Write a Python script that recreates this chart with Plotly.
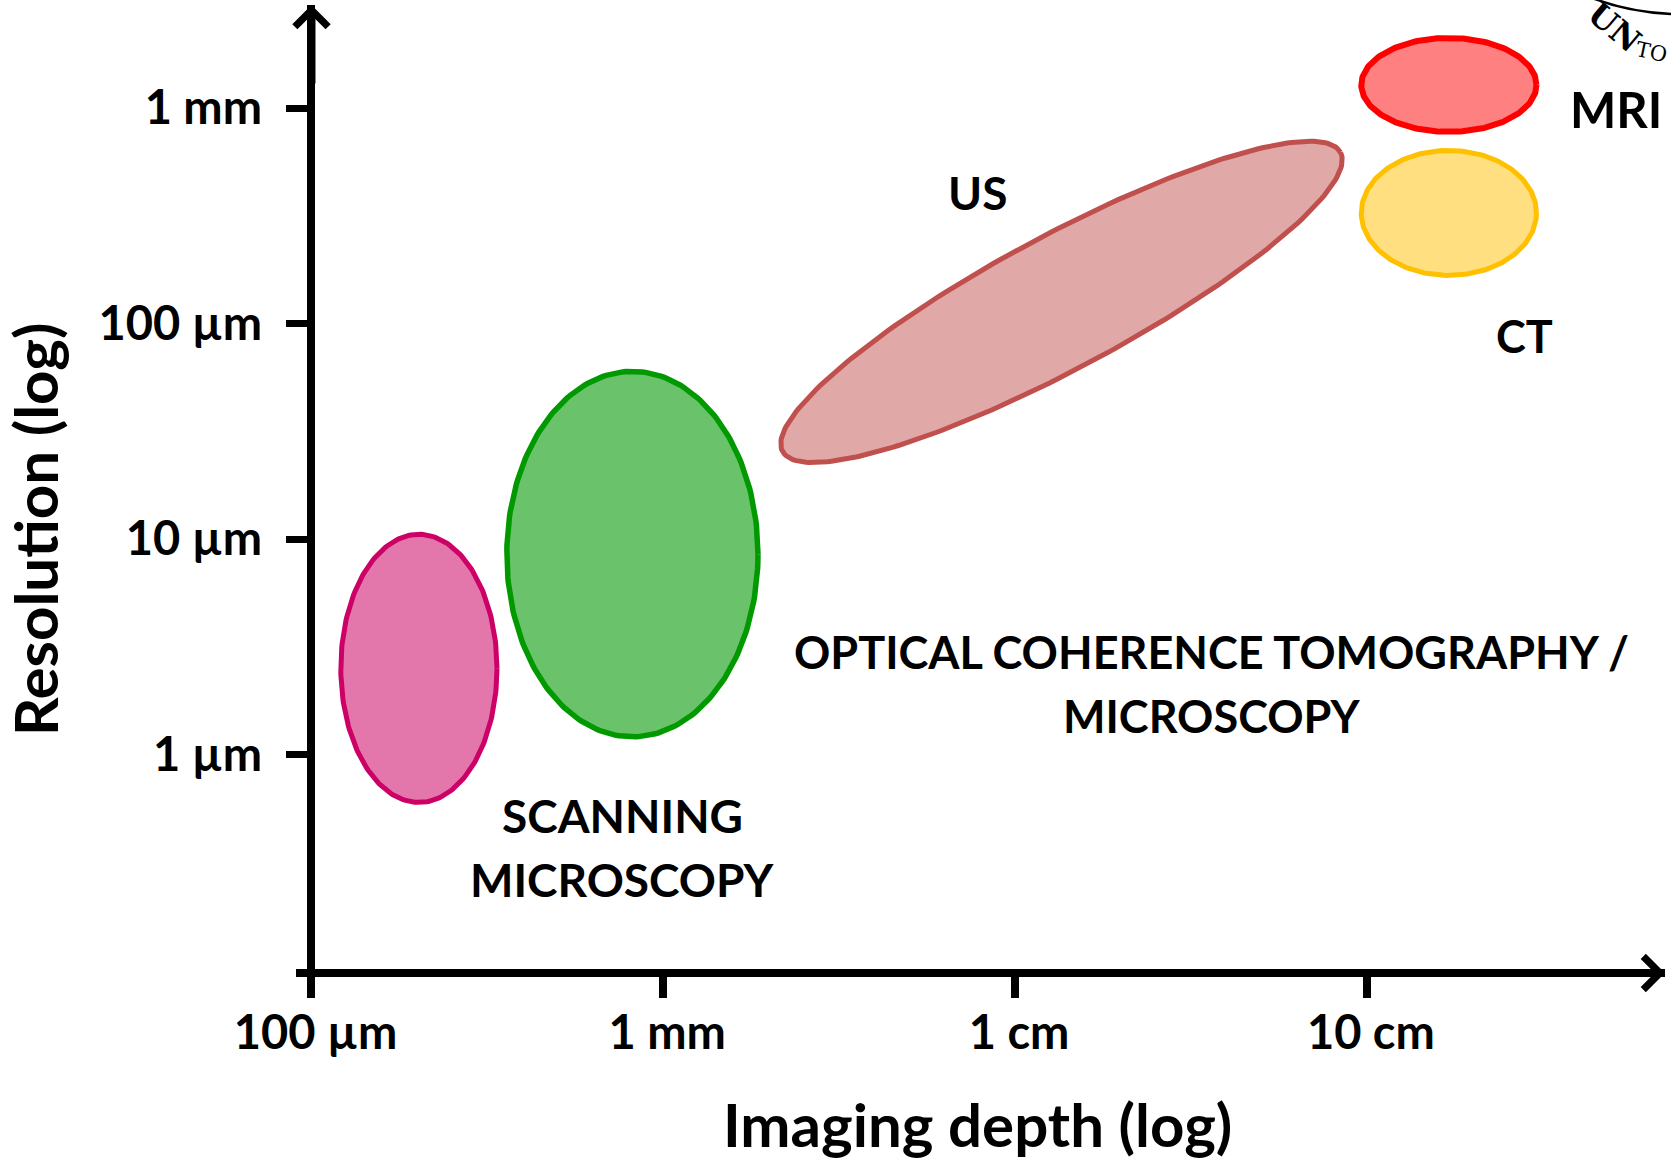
import numpy as np
import plotly.graph_objects as go

# ---------------- data ----------------
# Imaging modalities: centre (imaging depth [m], resolution [m]) and
# ellipse semi-axes expressed in decades (log10 units) as two conjugate vectors
modalities = ["Scanning microscopy", "OCT / microscopy", "US", "MRI", "CT"]
depth_center_m = [2.02e-4, 8.17e-4, 1.355e-2, 1.71e-1, 1.71e-1]
res_center_m = [2.51e-6, 8.51e-6, 1.26e-4, 1.28e-3, 3.26e-4]
# semi-axis vector u (d log depth, d log res) and v
u_dx = [0.222, 0.357, 0.793, 0.249, 0.249]
u_dy = [0.0, 0.0, 0.694, 0.0, 0.0]
v_dx = [0.0, 0.0, -0.090, 0.0, 0.0]
v_dy = [0.622, 0.848, 0.272, 0.218, 0.290]

fill_colors = ["#E377AC", "#6AC36A", "#E0A8A7", "#FF8080", "#FFDF80"]
line_colors = ["#CC0066", "#009900", "#C0504D", "#FF0000", "#FFC000"]
line_widths = [5, 5.5, 5, 6, 5]

x_tick_m = [1e-4, 1e-3, 1e-2, 1e-1]
x_tick_text = ["100 µm", "1 mm", "1 cm", "10 cm"]
y_tick_m = [1e-6, 1e-5, 1e-4, 1e-3]
y_tick_text = ["1 µm", "10 µm", "100 µm", "1 mm"]

# text labels: (text, depth [m], resolution [m], font size)
label_text = ["US", "MRI", "CT", "OPTICAL COHERENCE TOMOGRAPHY /", "MICROSCOPY",
              "SCANNING", "MICROSCOPY"]
label_depth_m = [7.80e-3, 5.10e-1, 2.80e-1, 3.61e-2, 3.63e-2, 7.68e-4, 7.68e-4]
label_res_m = [4.07e-4, 9.9e-4, 8.75e-5, 2.99e-6, 1.51e-6, 5.19e-7, 2.62e-7]
label_size = [46, 49, 45, 45, 45, 46, 46]

# ---------------- layout geometry ----------------
W, H = 1671, 1161
L, R, T, B = 296, 6, 5, 192
PW, PH = W - L - R, H - T - B
x_range = [-4.044, -0.1526]
y_range = [-6.9954, -2.522]

FONT = "Lato"

fig = go.Figure()

t = np.linspace(0, 2 * np.pi, 241)
for i, name in enumerate(modalities):
    cx = np.log10(depth_center_m[i])
    cy = np.log10(res_center_m[i])
    xs = cx + u_dx[i] * np.cos(t) + v_dx[i] * np.sin(t)
    ys = cy + u_dy[i] * np.cos(t) + v_dy[i] * np.sin(t)
    fig.add_trace(go.Scatter(
        x=xs, y=ys, mode="lines", fill="toself",
        fillcolor=fill_colors[i],
        line=dict(color=line_colors[i], width=line_widths[i]),
        name=name, hoverinfo="skip", showlegend=False, cliponaxis=False))

for txt, d, r, s in zip(label_text, label_depth_m, label_res_m, label_size):
    fig.add_annotation(x=np.log10(d), y=np.log10(r), text=txt, showarrow=False,
                       xanchor="center", yanchor="middle",
                       font=dict(family=FONT, size=s, color="black", weight="bold"))


def px_to_paper_x(px):
    return (px - L) / PW


def px_to_paper_y(py):
    return (H - B - py) / PH


# axis titles
fig.add_annotation(xref="paper", yref="paper", x=px_to_paper_x(977), y=px_to_paper_y(1124),
                   text="Imaging depth (log)", showarrow=False,
                   xanchor="center", yanchor="middle",
                   font=dict(family=FONT, size=60, color="black", weight="bold"))
fig.add_annotation(xref="paper", yref="paper", x=px_to_paper_x(35), y=px_to_paper_y(530),
                   text="Resolution (log)", showarrow=False, textangle=-90,
                   xanchor="center", yanchor="middle",
                   font=dict(family=FONT, size=60, color="black", weight="bold"))

# arrow heads on the axes
x0_log = np.log10(x_tick_m[0])
fig.add_annotation(x=x0_log, y=y_range[1], ax=0, ay=80, text="", showarrow=True,
                   arrowhead=4, arrowsize=0.8, arrowwidth=8, arrowcolor="black",
                   standoff=0)
fig.add_annotation(x=x_range[1], y=y_range[0], ax=-80, ay=0, yshift=-4, text="",
                   showarrow=True, arrowhead=4, arrowsize=0.8, arrowwidth=8,
                   arrowcolor="black", standoff=0)

# fragment of the logo in the top-right corner
fig.add_annotation(xref="paper", yref="paper", x=px_to_paper_x(1614), y=px_to_paper_y(27),
                   xanchor="center", yanchor="middle",
                   text="UN", showarrow=False, textangle=40,
                   font=dict(family="DejaVu Serif", size=32, color="black", weight="bold"))
fig.add_annotation(xref="paper", yref="paper", x=px_to_paper_x(1651), y=px_to_paper_y(52),
                   xanchor="center", yanchor="middle",
                   text="TO", showarrow=False, textangle=12,
                   font=dict(family="DejaVu Serif", size=21, color="black"))
fig.add_shape(type="path", xref="paper", yref="paper",
              path="M {:.4f},{:.4f} Q {:.4f},{:.4f} {:.4f},{:.4f}".format(
                  px_to_paper_x(1592), px_to_paper_y(-2),
                  px_to_paper_x(1628), px_to_paper_y(12),
                  px_to_paper_x(1671), px_to_paper_y(14)),
              line=dict(color="black", width=2.5))

yaxis_pos = (np.log10(x_tick_m[0]) - x_range[0]) / (x_range[1] - x_range[0])

fig.update_layout(
    width=W, height=H,
    margin=dict(l=L, r=R, t=T, b=B, pad=0, autoexpand=False),
    paper_bgcolor="white", plot_bgcolor="white",
    showlegend=False,
    xaxis=dict(range=x_range, showgrid=False, zeroline=False, automargin=False,
               tickvals=[np.log10(v) for v in x_tick_m], ticktext=x_tick_text,
               ticks="outside", ticklen=21, tickwidth=8, tickcolor="black",
               showline=True, linewidth=8, linecolor="black",
               ticklabelstandoff=-5, ticklabelshift=4,
               tickfont=dict(family=FONT, size=47, color="black", weight="bold"),
               fixedrange=True),
    yaxis=dict(range=y_range, showgrid=False, zeroline=False, automargin=False,
               anchor="free", position=yaxis_pos,
               tickvals=[np.log10(v) for v in y_tick_m], ticktext=y_tick_text,
               ticks="outside", ticklen=21, tickwidth=7, tickcolor="black",
               showline=True, linewidth=8, linecolor="black",
               ticklabelstandoff=15,
               tickfont=dict(family=FONT, size=47, color="black", weight="bold"),
               fixedrange=True),
)

fig.write_html("out.html", config={"displayModeBar": False},
               post_script="document.body.style.margin='0px';")
